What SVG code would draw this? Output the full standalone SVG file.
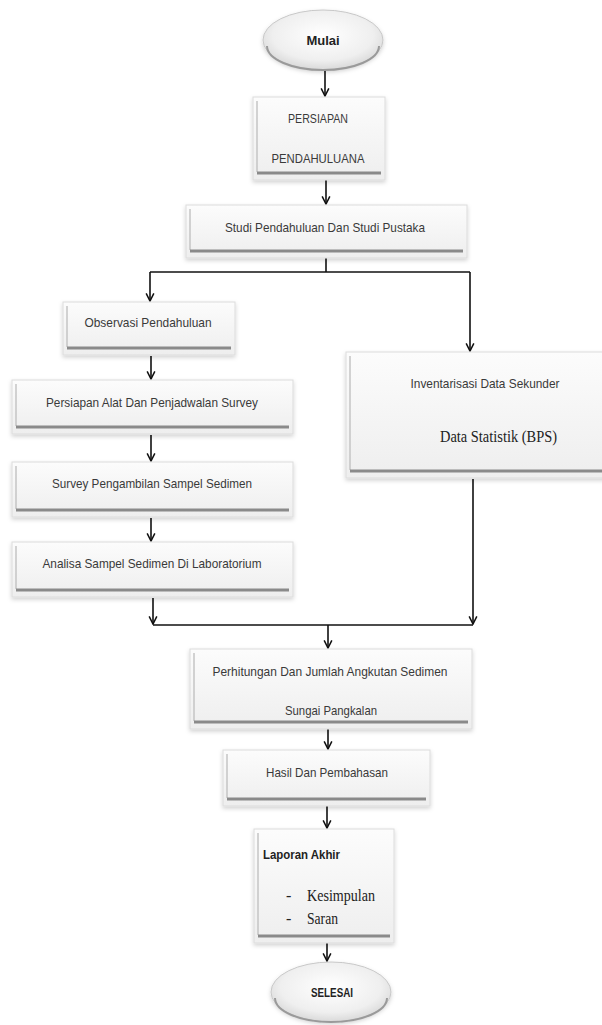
<svg xmlns="http://www.w3.org/2000/svg" width="602" height="1025" viewBox="0 0 602 1025">
<style>
.box{fill:url(#bg);stroke:#dcdcdc;stroke-width:1;filter:url(#sh)}
.bev{stroke:#8a8a8a;stroke-width:3;fill:none}
.lft{stroke:#c4c4c4;stroke-width:1.5;fill:none}
.ell{fill:url(#eg);stroke:#c8c8c8;stroke-width:1;filter:url(#sh)}
.rim{fill:none;stroke:#9a9a9a;stroke-width:2}
.t{font-family:"Liberation Sans",Arial,sans-serif;font-size:13px;fill:#3a3a3a;text-anchor:middle}
.b{font-family:"Liberation Sans",Arial,sans-serif;font-size:13px;font-weight:bold;fill:#222;text-anchor:middle}
.s{font-family:"Liberation Serif","Times New Roman",serif;font-size:16px;fill:#222}
.c{fill:none;stroke:#111;stroke-width:1.6}
.a{marker-end:url(#ar)}
</style>
<defs>
<linearGradient id="bg" x1="0" y1="0" x2="0" y2="1">
<stop offset="0" stop-color="#fcfcfc"/>
<stop offset="1" stop-color="#eeeeee"/>
</linearGradient>
<radialGradient id="eg" cx="0.5" cy="0.42" r="0.6">
<stop offset="0" stop-color="#ffffff"/>
<stop offset="0.7" stop-color="#efefef"/>
<stop offset="1" stop-color="#d6d6d6"/>
</radialGradient>
<filter id="sh" x="-10%" y="-10%" width="120%" height="130%">
<feDropShadow dx="0" dy="2" stdDeviation="2" flood-color="#000" flood-opacity="0.18"/>
</filter>
<marker id="ar" viewBox="0 0 10 10" refX="9" refY="5" markerWidth="6" markerHeight="6" orient="auto" markerUnits="strokeWidth">
<path d="M1,1 L9,5 L1,9" fill="none" stroke="#111" stroke-width="1.6"/>
</marker>
</defs>

<g id="connectors">
<path class="c a" d="M325 70 V96"/>
<path class="c a" d="M326 180 V204"/>
<path class="c" d="M326 258 V272"/>
<path class="c" d="M150 272 H470"/>
<path class="c a" d="M150 272 V301"/>
<path class="c a" d="M470 272 V351"/>
<path class="c a" d="M151 356 V379"/>
<path class="c a" d="M151 435 V461"/>
<path class="c a" d="M151 518 V541"/>
<path class="c a" d="M153 598 V624"/>
<path class="c a" d="M473 479 V624"/>
<path class="c" d="M153 625 H473"/>
<path class="c a" d="M328 625 V648"/>
<path class="c a" d="M328 729 V749"/>
<path class="c a" d="M327 806 V828"/>
<path class="c a" d="M327 943 V961"/>
</g>

<g id="mulai">
<ellipse class="ell" cx="323" cy="40" rx="60" ry="30"/>
<path class="rim" d="M267 46 A56 24 0 0 0 379 46"/>
<text class="b" x="323" y="45">Mulai</text>
</g>

<g id="persiapan">
<rect class="box" x="253" y="97" width="132" height="83"/>
<path class="lft" d="M257 101 V172"/>
<path class="bev" d="M257 173 H381"/>
<text class="t" x="318" y="123" textLength="60" lengthAdjust="spacingAndGlyphs">PERSIAPAN</text>
<text class="t" x="318" y="163" textLength="93" lengthAdjust="spacingAndGlyphs">PENDAHULUANA</text>
</g>

<g id="studi">
<rect class="box" x="186" y="205" width="281" height="53"/>
<path class="lft" d="M190 209 V250"/>
<path class="bev" d="M190 251 H463"/>
<text class="t" x="325" y="232" textLength="200" lengthAdjust="spacingAndGlyphs">Studi Pendahuluan Dan Studi Pustaka</text>
</g>

<g id="observasi">
<rect class="box" x="63" y="302" width="172" height="53"/>
<path class="lft" d="M67 306 V347"/>
<path class="bev" d="M67 348 H231"/>
<text class="t" x="148" y="327" textLength="127" lengthAdjust="spacingAndGlyphs">Observasi Pendahuluan</text>
</g>

<g id="alat">
<rect class="box" x="12" y="380" width="281" height="54"/>
<path class="lft" d="M16 384 V426"/>
<path class="bev" d="M16 427 H289"/>
<text class="t" x="152" y="407" textLength="212" lengthAdjust="spacingAndGlyphs">Persiapan Alat Dan Penjadwalan Survey</text>
</g>

<g id="survey">
<rect class="box" x="12" y="462" width="281" height="55"/>
<path class="lft" d="M16 466 V509"/>
<path class="bev" d="M16 510 H289"/>
<text class="t" x="152" y="488" textLength="200" lengthAdjust="spacingAndGlyphs">Survey Pengambilan Sampel Sedimen</text>
</g>

<g id="analisa">
<rect class="box" x="12" y="542" width="281" height="55"/>
<path class="lft" d="M16 546 V589"/>
<path class="bev" d="M16 590 H289"/>
<text class="t" x="152" y="568" textLength="219" lengthAdjust="spacingAndGlyphs">Analisa Sampel Sedimen Di Laboratorium</text>
</g>

<g id="inventarisasi">
<rect class="box" x="346" y="352" width="270" height="126"/>
<path class="lft" d="M350 356 V470"/>
<path class="bev" d="M350 471 H612"/>
<text class="t" x="485" y="388" textLength="149" lengthAdjust="spacingAndGlyphs">Inventarisasi Data Sekunder</text>
<text class="s" x="440" y="442" textLength="117" lengthAdjust="spacingAndGlyphs">Data Statistik (BPS)</text>
</g>

<g id="perhitungan">
<rect class="box" x="190" y="649" width="282" height="80"/>
<path class="lft" d="M194 653 V721"/>
<path class="bev" d="M194 722 H468"/>
<text class="t" x="330" y="676" textLength="235" lengthAdjust="spacingAndGlyphs">Perhitungan Dan Jumlah Angkutan Sedimen</text>
<text class="t" x="331" y="715" textLength="92" lengthAdjust="spacingAndGlyphs">Sungai Pangkalan</text>
</g>

<g id="hasil">
<rect class="box" x="223" y="750" width="207" height="56"/>
<path class="lft" d="M227 754 V798"/>
<path class="bev" d="M227 799 H426"/>
<text class="t" x="327" y="777" textLength="122" lengthAdjust="spacingAndGlyphs">Hasil Dan Pembahasan</text>
</g>

<g id="laporan">
<rect class="box" x="254" y="829" width="140" height="114"/>
<path class="lft" d="M258 833 V935"/>
<path class="bev" d="M258 936 H390"/>
<text class="b" x="263" y="859" style="text-anchor:start" textLength="77" lengthAdjust="spacingAndGlyphs">Laporan Akhir</text>
<text class="s" x="286" y="901">-</text>
<text class="s" x="307" y="901" textLength="68" lengthAdjust="spacingAndGlyphs">Kesimpulan</text>
<text class="s" x="286" y="924">-</text>
<text class="s" x="307" y="924" textLength="31" lengthAdjust="spacingAndGlyphs">Saran</text>
</g>

<g id="selesai">
<ellipse class="ell" cx="331" cy="992" rx="60" ry="30"/>
<path class="rim" d="M275 998 A56 24 0 0 0 387 998"/>
<text class="b" x="332" y="997" textLength="42" lengthAdjust="spacingAndGlyphs">SELESAI</text>
</g>
</svg>
